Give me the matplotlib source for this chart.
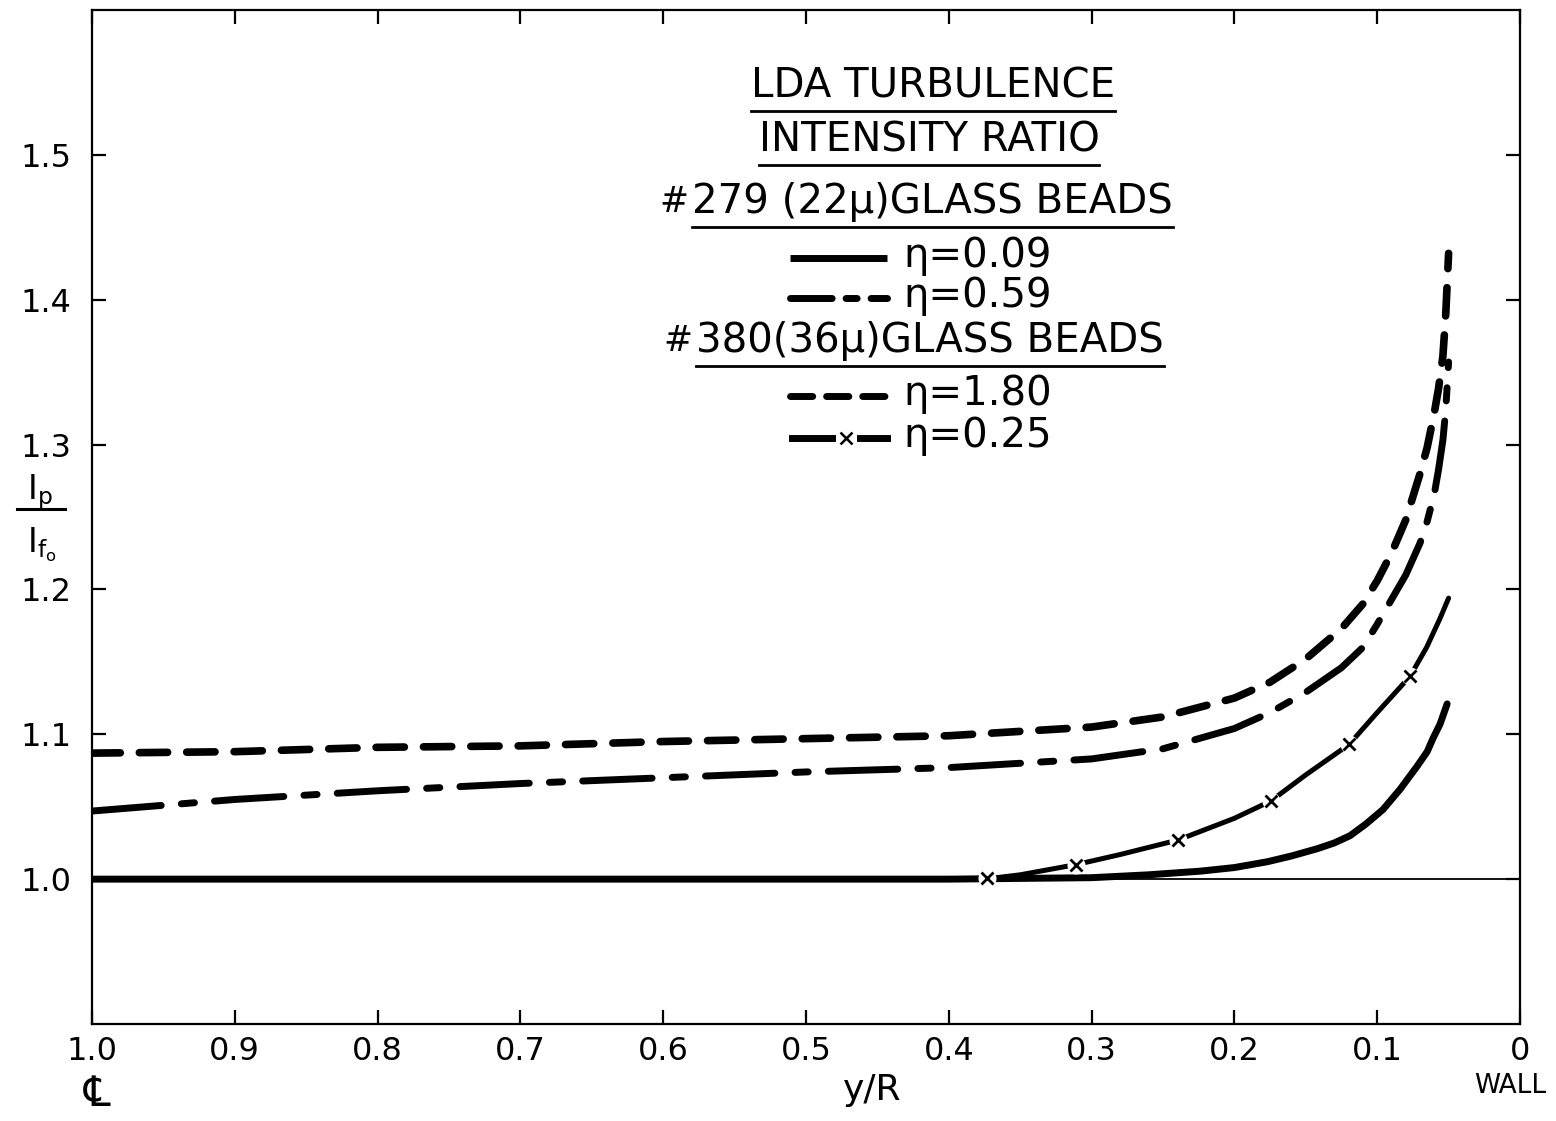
import matplotlib
matplotlib.use("Agg")
import matplotlib.pyplot as plt
from matplotlib.lines import Line2D

plt.rcParams['font.family'] = ['DejaVu Sans']
plt.rcParams['mathtext.fontset'] = 'dejavusans'

# ---------------- data ----------------
x_ticks = [1.0, 0.9, 0.8, 0.7, 0.6, 0.5, 0.4, 0.3, 0.2, 0.1, 0.0]
x_tick_labels = ['1.0', '0.9', '0.8', '0.7', '0.6', '0.5', '0.4', '0.3', '0.2', '0.1', '0']
y_ticks = [1.0, 1.1, 1.2, 1.3, 1.4, 1.5]
y_tick_labels = ['1.0', '1.1', '1.2', '1.3', '1.4', '1.5']

# eta = 1.80 (#380, long dashes)
x_180 = [1.0, 0.9, 0.8, 0.7, 0.6, 0.5, 0.4, 0.3, 0.25, 0.2, 0.175, 0.15, 0.125,
         0.11, 0.1, 0.09, 0.08, 0.07, 0.065, 0.06, 0.057, 0.054, 0.052, 0.05]
y_180 = [1.087, 1.088, 1.091, 1.092, 1.095, 1.097, 1.099, 1.105, 1.112, 1.125, 1.136, 1.152, 1.173,
         1.190, 1.206, 1.225, 1.248, 1.280, 1.298, 1.322, 1.339, 1.361, 1.390, 1.432]

# eta = 0.59 (#279, dash-dot)
x_059 = [1.0, 0.9, 0.8, 0.7, 0.6, 0.5, 0.4, 0.3, 0.25, 0.2, 0.175, 0.15, 0.125,
         0.11, 0.1, 0.09, 0.08, 0.07, 0.065, 0.06, 0.057, 0.054, 0.052, 0.05]
y_059 = [1.047, 1.055, 1.061, 1.066, 1.070, 1.074, 1.077, 1.083, 1.090, 1.104, 1.115, 1.129, 1.146,
         1.160, 1.176, 1.193, 1.210, 1.232, 1.247, 1.266, 1.283, 1.303, 1.324, 1.357]

# eta = 0.09 (#279, solid)
x_009 = [1.0, 0.8, 0.6, 0.4, 0.3, 0.26, 0.224, 0.2, 0.177, 0.16, 0.142, 0.13, 0.119,
         0.108, 0.096, 0.084, 0.072, 0.065, 0.061, 0.056, 0.051]
y_009 = [1.0, 1.0, 1.0, 1.0, 1.001, 1.003, 1.0055, 1.008, 1.012, 1.016, 1.021, 1.025, 1.030,
         1.038, 1.048, 1.062, 1.078, 1.088, 1.097, 1.107, 1.121]

# eta = 0.25 (#380, line with x marks)
x_025 = [0.375, 0.35, 0.311, 0.28, 0.2395, 0.2, 0.1744, 0.15, 0.1197, 0.10, 0.077, 0.0654, 0.056, 0.05]
y_025 = [1.0, 1.003, 1.010, 1.017, 1.027, 1.042, 1.054, 1.072, 1.093, 1.115, 1.140, 1.160, 1.180, 1.194]
x_025_marks = [0.373, 0.311, 0.2395, 0.1744, 0.1197, 0.077]
y_025_marks = [1.001, 1.010, 1.027, 1.054, 1.093, 1.140]

# ---------------- figure ----------------
W, H = 1556, 1121
fig = plt.figure(figsize=(W / 100, H / 100), dpi=100)
ax_l, ax_r, ax_t, ax_b = 92, 1520, 10, 1024
ax = fig.add_axes([ax_l / W, 1 - ax_b / H, (ax_r - ax_l) / W, (ax_b - ax_t) / H])
ax.set_xlim(1.0, 0.0)
ax.set_ylim(0.9, 1.6)

def fx(px):
    return px / W

def fy(py):
    return 1 - py / H

lw_main = 5.0
dash_180 = (0, (3.7, 2.5))
dash_059 = (0, (10.0, 2.9, 1.9, 2.9))

ax.axhline(1.0, color='black', lw=1.3, zorder=1)
ax.plot(x_180, y_180, color='black', lw=5.5, linestyle=dash_180,
        dash_capstyle='round', dash_joinstyle='round', zorder=3)
ax.plot(x_059, y_059, color='black', lw=lw_main, linestyle=dash_059,
        dash_capstyle='round', dash_joinstyle='round', zorder=3)
ax.plot(x_009, y_009, color='black', lw=lw_main, solid_capstyle='round',
        solid_joinstyle='round', zorder=3)
ax.plot(x_025, y_025, color='black', lw=3.6, solid_capstyle='round',
        solid_joinstyle='round', zorder=3)
ax.plot(x_025_marks, y_025_marks, 'o', color='white', ms=13, mec='none', zorder=5)
ax.plot(x_025_marks, y_025_marks, 'x', color='black', ms=9, mew=2.0, zorder=6)

# ticks / spines
ax.set_xticks(x_ticks)
ax.set_xticklabels(x_tick_labels)
ax.set_yticks(y_ticks)
ax.set_yticklabels(y_tick_labels)
ax.tick_params(direction='in', top=True, right=True, length=10, width=1.6,
               labelsize=23, colors='black')
ax.tick_params(axis='x', pad=9)
ax.tick_params(axis='y', pad=15)
for s in ax.spines.values():
    s.set_linewidth(1.6)
    s.set_color('black')

# axis labels
fig.text(fx(872), fy(1090), 'y/R', fontsize=26, ha='center', va='center')
fig.text(fx(97), fy(1094), '\u2104', fontsize=30, ha='center', va='center')
fig.text(fx(1510), fy(1086), 'WALL', fontsize=19, ha='center', va='center')
# y label as a hand-set fraction  Ip / Ifo
fig.text(fx(40), fy(492), r'$\mathrm{I}_\mathrm{p}$', fontsize=24, ha='center', va='center')
fig.add_artist(Line2D([fx(17), fx(65)], [fy(509), fy(509)], transform=fig.transFigure,
                      color='black', lw=2.2))
fig.text(fx(42), fy(545), r'$\mathrm{I}_{\mathrm{f}_\mathrm{o}}$', fontsize=24,
         ha='center', va='center')

# annotation block
fs = 29
t_lda = fig.text(fx(933), fy(86), 'LDA TURBULENCE', fontsize=fs, ha='center', va='center')
t_int = fig.text(fx(929), fy(140), 'INTENSITY RATIO', fontsize=fs, ha='center', va='center')
t_h1a = fig.text(fx(688), fy(202), '#', fontsize=fs - 4, ha='right', va='center')
t_h1 = fig.text(fx(692), fy(202), '279 (22\u03bc)GLASS BEADS', fontsize=fs, ha='left', va='center')
t_e1 = fig.text(fx(903), fy(256), '\u03b7=0.09', fontsize=fs, ha='left', va='center')
t_e2 = fig.text(fx(903), fy(296), '\u03b7=0.59', fontsize=fs, ha='left', va='center')
t_h2a = fig.text(fx(692), fy(341), '#', fontsize=fs - 4, ha='right', va='center')
t_h2 = fig.text(fx(696), fy(341), '380(36\u03bc)GLASS BEADS', fontsize=fs, ha='left', va='center')
t_e3 = fig.text(fx(903), fy(394), '\u03b7=1.80', fontsize=fs, ha='left', va='center')
t_e4 = fig.text(fx(903), fy(436), '\u03b7=0.25', fontsize=fs, ha='left', va='center')

fig.canvas.draw()
renderer = fig.canvas.get_renderer()

def underline(t, gap=5):
    bb = t.get_window_extent(renderer)
    y = bb.y0 - gap
    fig.add_artist(Line2D([bb.x0 / W, bb.x1 / W], [y / H, y / H],
                          transform=fig.transFigure, color='black', lw=2.0))

for t in (t_lda, t_int, t_h1, t_h2):
    underline(t)

def sample(py, **kw):
    fig.add_artist(Line2D([fx(790), fx(887)], [fy(py), fy(py)],
                          transform=fig.transFigure, color='black', **kw))

sample(258, lw=lw_main, solid_capstyle='butt')
sample(298, lw=lw_main, linestyle=(0, (6.0, 2.0, 1.6, 2.0)), dash_capstyle='round')
sample(396, lw=lw_main, linestyle=(0, (3.2, 2.0)), dash_capstyle='round')
fig.add_artist(Line2D([fx(792), fx(832)], [fy(438), fy(438)], transform=fig.transFigure,
                      color='black', lw=lw_main))
fig.add_artist(Line2D([fx(860), fx(887)], [fy(438), fy(438)], transform=fig.transFigure,
                      color='black', lw=lw_main))
fig.add_artist(Line2D([fx(846)], [fy(438)], transform=fig.transFigure, color='black',
                      marker='x', ms=8, mew=1.8, linestyle='none'))

fig.savefig('out.png', dpi=100, facecolor='white')
